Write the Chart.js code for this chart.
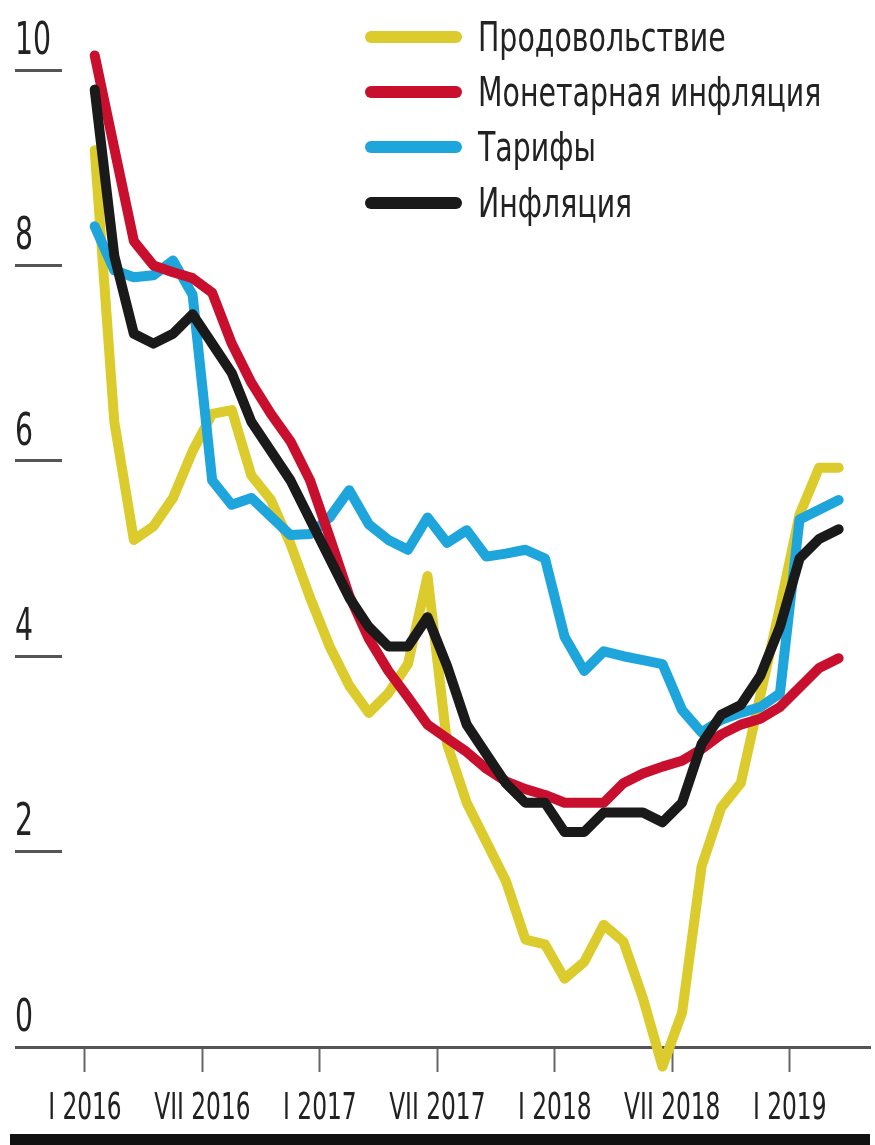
<!DOCTYPE html>
<html lang="ru">
<head>
<meta charset="utf-8">
<script src="https://cdn.jsdelivr.net/npm/chart.js@4.4.1/dist/chart.umd.min.js"></script>
<style>
  html, body { margin: 0; padding: 0; background: #fff; }
  #wrap { position: relative; width: 875px; height: 1145px; overflow: hidden; }
  #chart { position: absolute; left: 0; top: 0; }
  #legend { position: absolute; left: 365px; top: 0; width: 510px; height: 240px; }
  .item { position: absolute; left: 0; height: 56px; display: flex; align-items: center; }
  .swatch { width: 97px; height: 12px; border-radius: 6px; flex: none; }
  .label { display: inline-block; margin-left: 16px; font-size: 41px; color: #222; white-space: nowrap;
           transform: scaleX(0.77); transform-origin: left center;
           font-family: 'DejaVu Sans Condensed', 'Liberation Sans Narrow', 'Roboto Condensed', sans-serif; }
  #bar { position: absolute; left: 10px; top: 1134px; width: 860px; height: 11px; background: #111; }
</style>
</head>
<body>
<div id="wrap">
  <canvas id="chart" width="875" height="1145"></canvas>
  <div id="legend"></div>
  <div id="bar"></div>
</div>
<script>
// monthly data, I 2016 .. III 2019
const months = [
  'I 2016', 'II 2016', 'III 2016', 'IV 2016', 'V 2016', 'VI 2016',
  'VII 2016', 'VIII 2016', 'IX 2016', 'X 2016', 'XI 2016', 'XII 2016',
  'I 2017', 'II 2017', 'III 2017', 'IV 2017', 'V 2017', 'VI 2017',
  'VII 2017', 'VIII 2017', 'IX 2017', 'X 2017', 'XI 2017', 'XII 2017',
  'I 2018', 'II 2018', 'III 2018', 'IV 2018', 'V 2018', 'VI 2018',
  'VII 2018', 'VIII 2018', 'IX 2018', 'X 2018', 'XI 2018', 'XII 2018',
  'I 2019', 'II 2019', 'III 2019'
];
const xTickIdx = [0, 6, 12, 18, 24, 30, 36];
const yTicks = [0, 2, 4, 6, 8, 10];

const food = [
  9.18, 6.4, 5.19, 5.33, 5.62, 6.1, 6.48, 6.52, 5.85, 5.6, 5.15, 4.6,
  4.1, 3.7, 3.42, 3.62, 3.92, 4.82, 3.1, 2.5, 2.1, 1.7, 1.1, 1.05,
  0.7, 0.87, 1.25, 1.08, 0.5, -0.2, 0.35, 1.85, 2.45, 2.7, 3.6, 4.5,
  5.45, 5.93, 5.93
];
const monetary = [
  10.15, 9.2, 8.25, 8.0, 7.93, 7.87, 7.72, 7.2, 6.8, 6.48, 6.2, 5.8,
  5.22, 4.62, 4.18, 3.85, 3.58, 3.3, 3.16, 3.02, 2.85, 2.72, 2.64, 2.58,
  2.5, 2.5, 2.5, 2.7, 2.8, 2.87, 2.93, 3.05, 3.2, 3.3, 3.36, 3.48,
  3.68, 3.88, 3.98
];
const tariffs = [
  8.4, 7.95, 7.88, 7.9, 8.05, 7.7, 5.8, 5.55, 5.62, 5.43, 5.24, 5.25,
  5.42, 5.7, 5.35, 5.19, 5.09, 5.42, 5.16, 5.29, 5.02, 5.05, 5.09, 5.0,
  4.2, 3.85, 4.05, 4.0, 3.96, 3.92, 3.45, 3.22, 3.35, 3.42, 3.48, 3.62,
  5.4, 5.5, 5.6
];
const inflation = [
  9.8, 8.1, 7.3, 7.2, 7.3, 7.5, 7.2, 6.9, 6.4, 6.1, 5.8, 5.4,
  5.0, 4.6, 4.3, 4.1, 4.1, 4.4, 3.9, 3.3, 3.0, 2.7, 2.5, 2.5,
  2.2, 2.2, 2.4, 2.4, 2.4, 2.3, 2.5, 3.1, 3.4, 3.5, 3.8, 4.3,
  5.0, 5.2, 5.3
];

const FONT = "'DejaVu Sans Condensed', 'Liberation Sans Narrow', 'Roboto Condensed', sans-serif";

// points sit in the middle of each month, ticks at month start
function toPoints(arr) {
  return arr.map((v, i) => ({ x: i + 0.5, y: v }));
}

const series = [
  { label: 'Продовольствие', data: food, color: '#dccb2c', order: 3 },
  { label: 'Монетарная инфляция', data: monetary, color: '#c8102e', order: 1 },
  { label: 'Тарифы', data: tariffs, color: '#1ea5dc', order: 2 },
  { label: 'Инфляция', data: inflation, color: '#1a1a1a', order: 0 }
];

const ctx = document.getElementById('chart').getContext('2d');

// the source uses a very narrow typeface: squeeze canvas text horizontally
const baseFillText = ctx.fillText;
ctx.fillText = function (text, x, y, maxWidth) {
  this.save();
  this.translate(x, y);
  this.scale(0.7, 1);
  baseFillText.call(this, text, 0, 0);
  this.restore();
};

const chart = new Chart(ctx, {
  type: 'line',
  data: {
    datasets: series.map(s => ({
      label: s.label,
      data: toPoints(s.data),
      borderColor: s.color,
      backgroundColor: s.color,
      order: s.order,
      clip: false
    }))
  },
  options: {
    responsive: false,
    animation: false,
    layout: { padding: { left: 15, right: 5, top: 30, bottom: 0 } },
    plugins: { legend: { display: false }, tooltip: { enabled: false } },
    elements: {
      point: { radius: 0 },
      line: { borderWidth: 10, borderJoinStyle: 'round', borderCapStyle: 'round', tension: 0 }
    },
    scales: {
      x: {
        type: 'linear',
        min: -1.17,
        max: 40.1,
        afterBuildTicks: s => { s.ticks = xTickIdx.map(v => ({ value: v })); },
        afterFit: s => { s.height = 98; },
        border: { display: true, color: '#555', width: 3 },
        grid: { drawOnChartArea: false, drawTicks: true, tickLength: 25, tickColor: '#666', tickWidth: 2 },
        ticks: {
          autoSkip: false, maxRotation: 0, padding: 15, color: '#222',
          font: { family: FONT, size: 37 },
          callback: v => months[v]
        }
      },
      y: {
        min: 0,
        max: 10.41,
        afterBuildTicks: s => { s.ticks = yTicks.map(v => ({ value: v })); },
        afterFit: s => { s.width = 47; },
        border: { display: false },
        grid: { drawOnChartArea: false, drawTicks: true, tickLength: 47, tickColor: '#555', tickWidth: 3 },
        ticks: {
          crossAlign: 'far', labelOffset: -28, padding: 0, color: '#222',
          font: { family: FONT, size: 45 }
        }
      }
    }
  }
});

// legend built from the datasets
const legend = document.getElementById('legend');
const legendCenters = [37, 92, 147, 203];
series.forEach((s, i) => {
  const item = document.createElement('div');
  item.className = 'item';
  item.style.top = (legendCenters[i] - 28) + 'px';
  item.innerHTML = `<div class="swatch" style="background:${s.color}"></div><span class="label">${s.label}</span>`;
  legend.appendChild(item);
});
</script>
</body>
</html>
